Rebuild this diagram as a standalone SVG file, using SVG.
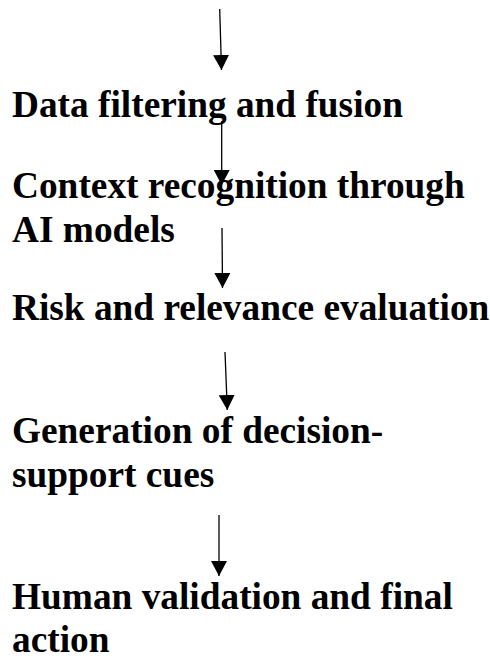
<svg xmlns="http://www.w3.org/2000/svg" width="490" height="656" viewBox="0 0 490 656">
  <style>
    text { font-family: 'Liberation Serif', 'Times New Roman', Times, 'DejaVu Serif', serif; font-weight: 700; font-size: 37.33px; fill: #000000; }
    .conn { stroke: #000; stroke-width: 1.3; fill: none; }
  </style>
  <defs>
    <marker id="ah" markerUnits="userSpaceOnUse" markerWidth="16" markerHeight="16" refX="15" refY="8" orient="auto">
      <path d="M0,0 L15,8 L0,16 Z" fill="#000"/>
    </marker>
  </defs>
  <rect width="490" height="656" fill="#fff"/>
  <g id="connectors">
    <line class="conn" x1="219.7" y1="9" x2="221.5" y2="70" marker-end="url(#ah)"/>
    <line class="conn" x1="221.7" y1="121" x2="221.7" y2="185" marker-end="url(#ah)"/>
    <line class="conn" x1="222" y1="228" x2="222.5" y2="288" marker-end="url(#ah)"/>
    <line class="conn" x1="225" y1="352" x2="227.3" y2="410" marker-end="url(#ah)"/>
    <line class="conn" x1="219" y1="515" x2="219" y2="576" marker-end="url(#ah)"/>
  </g>
  <g id="node-filtering">
    <text x="12" y="117" font-family="Liberation Serif, serif">Data filtering and fusion</text>
  </g>
  <g id="node-context">
    <text x="12" y="198" font-family="Liberation Serif, serif">Context recognition through</text>
    <text x="12" y="241.5" font-family="Liberation Serif, serif">AI models</text>
  </g>
  <g id="node-risk">
    <text x="12" y="320" font-family="Liberation Serif, serif">Risk and relevance evaluation</text>
  </g>
  <g id="node-generation">
    <text x="12" y="443.3" font-family="Liberation Serif, serif">Generation of decision-</text>
    <text x="12" y="486.7" font-family="Liberation Serif, serif">support cues</text>
  </g>
  <g id="node-human">
    <text x="12" y="609.3" font-family="Liberation Serif, serif">Human validation and final</text>
    <text x="12" y="652" font-family="Liberation Serif, serif">action</text>
  </g>
</svg>
